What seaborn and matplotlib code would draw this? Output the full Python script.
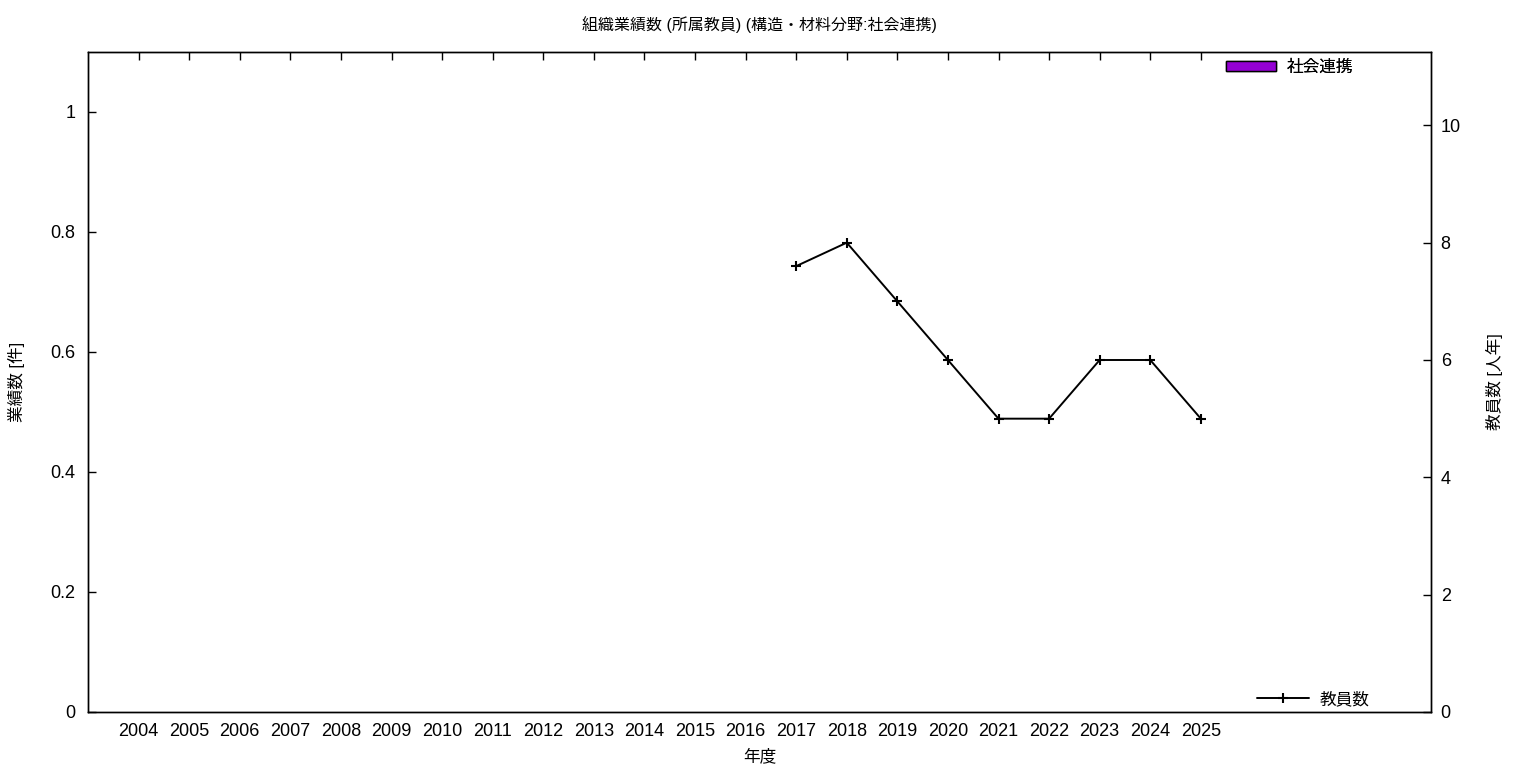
#!/usr/bin/env python3
"""Organisation output count vs. staff count (structures & materials, outreach)."""

import matplotlib
matplotlib.use("Agg")
import matplotlib.pyplot as plt
import pandas as pd
import seaborn as sns
from matplotlib.lines import Line2D
from matplotlib.patches import Patch


YEARS = [str(y) for y in range(2004, 2026)]
OUTREACH_COUNT = [0] * len(YEARS)
STAFF_YEARS = ["2017", "2018", "2019", "2020", "2021", "2022", "2023", "2024", "2025"]
STAFF_COUNT = [7.6, 8.0, 7.0, 6.0, 5.0, 5.0, 6.0, 6.0, 5.0]

TITLE = "組織業績数 (所属教員) (構造・材料分野:社会連携)"
BAR_LABEL = "社会連携"
LINE_LABEL = "教員数"
BAR_COLOR = "#9400d3"


def main() -> None:
    sns.set_theme(style="white", rc={
        "text.color": "black",
        "axes.labelcolor": "black",
        "xtick.color": "black",
        "ytick.color": "black",
    })
    plt.rcParams["font.family"] = ["Liberation Sans", "Noto Sans CJK JP"]

    fig = plt.figure(figsize=(15.36, 7.68), dpi=100)
    ax = fig.add_axes([88 / 1536, 1 - 712 / 768, (1431 - 88) / 1536, (712 - 52) / 768])

    bar_df = pd.DataFrame({"year": YEARS, "count": OUTREACH_COUNT})
    sns.barplot(data=bar_df, x="year", y="count", color=BAR_COLOR, ax=ax,
                edgecolor="black", linewidth=0, width=0.8)

    ax2 = ax.twinx()
    pos = {y: i for i, y in enumerate(YEARS)}
    line_df = pd.DataFrame({"x": [pos[y] for y in STAFF_YEARS], "staff": STAFF_COUNT})
    sns.lineplot(data=line_df, x="x", y="staff", ax=ax2, color="black",
                 linewidth=1.4, marker="+", markersize=6.5, markeredgewidth=1.5,
                 markeredgecolor="black")

    ax.set_xlim(-1, 25.55)
    ax.set_ylim(0, 1.1)
    ax2.set_ylim(0, 11.25)
    ax.set_yticks([0, 0.2, 0.4, 0.6, 0.8, 1.0])
    ax.set_yticklabels(["0", "0.2", "0.4", "0.6", "0.8", "1"])
    ax2.set_yticks([0, 2, 4, 6, 8, 10])
    ax2.set_yticklabels(["0", "2", "4", "6", "8", "10"])

    ax.tick_params(axis="x", direction="in", length=6, width=1, top=True,
                   labelsize=13, pad=8, colors="black")
    ax.tick_params(axis="y", direction="in", length=6, width=1, left=True,
                   labelsize=13, pad=9, colors="black")
    ax2.tick_params(axis="y", direction="in", length=6, width=1, right=True,
                    labelsize=13, pad=7, colors="black")

    for a in (ax, ax2):
        for s in a.spines.values():
            s.set_color("black")
            s.set_linewidth(1)

    ax.set_title(TITLE, fontsize=11.5, pad=16, color="black")
    ax.set_xlabel("年度", fontsize=12, labelpad=6, color="black")
    ax.set_ylabel("業績数 [件]", fontsize=12, labelpad=18, color="black")
    ax2.set_ylabel("教員数 [人年]", fontsize=12, labelpad=18, color="black")

    bar_handle = Patch(facecolor=BAR_COLOR, edgecolor="black", linewidth=1)
    leg1 = ax.legend([bar_handle], [BAR_LABEL], loc="upper right", frameon=False,
                     fontsize=12, handlelength=3.0, handleheight=0.5,
                     handletextpad=0.65, bbox_to_anchor=(0.9475, 1.0),
                     borderaxespad=0.05, labelcolor="black")
    ax.add_artist(leg1)
    line_handle = Line2D([], [], color="black", linewidth=1.4, marker="+",
                         markersize=6.5, markeredgewidth=1.5)
    ax2.legend([line_handle], [LINE_LABEL], loc="lower right", frameon=False,
               fontsize=12, handlelength=3.1, handletextpad=0.65,
               bbox_to_anchor=(0.958, 0.0), borderaxespad=-0.1,
               labelcolor="black")

    fig.savefig("out.png", dpi=100)
    plt.close(fig)


if __name__ == "__main__":
    main()
